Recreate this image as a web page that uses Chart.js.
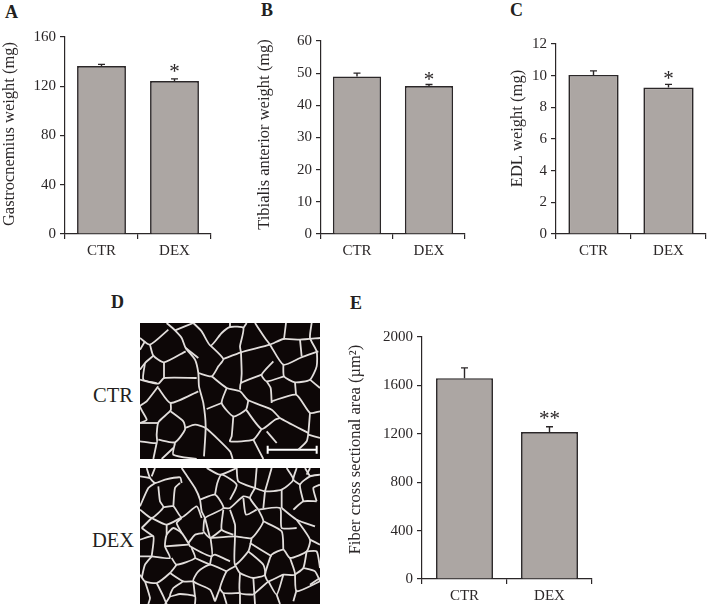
<!DOCTYPE html>
<html>
<head>
<meta charset="utf-8">
<title>Muscle weight and fiber area</title>
<script src="https://cdn.jsdelivr.net/npm/chart.js@4/dist/chart.umd.min.js"></script>
<style>
    html, body { margin: 0; padding: 0; background: #fff; }
    body { position: relative; width: 709px; height: 609px; overflow: hidden; font-family: "Liberation Serif", serif; color: #231f20; }
    canvas { position: absolute; }
    .panel-letter { position: absolute; font-size: 18px; font-weight: bold; line-height: 20px; }
    .image-label { position: absolute; font-size: 20.5px; line-height: 24px; }
</style>
</head>
<body>
<div class="panel-letter" style="left:5px;top:2px">A</div>
<div class="panel-letter" style="left:261px;top:0px">B</div>
<div class="panel-letter" style="left:510px;top:0px">C</div>
<div class="panel-letter" style="left:111px;top:292px">D</div>
<div class="panel-letter" style="left:350px;top:293px">E</div>
<div class="image-label" style="left:93px;top:383px">CTR</div>
<div class="image-label" style="left:92px;top:528px">DEX</div>

<canvas id="chart-a"></canvas>
<canvas id="chart-b"></canvas>
<canvas id="chart-c"></canvas>
<canvas id="chart-e"></canvas>
<canvas id="image-ctr"></canvas>
<canvas id="image-dex"></canvas>

<script>
// Data
const categories = ['CTR', 'DEX'];

const gastrocnemiusMeans = [136.5, 124.3];
const gastrocnemiusUpper = [137.8, 126];
const gastrocnemiusStars = ['', '*'];
const gastrocnemiusStarAt = [null, 133];
const gastrocnemiusTicks = [0, 160, 40];

const tibialisMeans = [49, 46];
const tibialisUpper = [50, 46.5];
const tibialisStars = ['', '*'];
const tibialisStarAt = [null, 48.6];
const tibialisTicks = [0, 60, 10];

const edlMeans = [10.05, 9.25];
const edlUpper = [10.3, 9.45];
const edlStars = ['', '*'];
const edlStarAt = [null, 9.9];
const edlTicks = [0, 12, 2];

const fiberMeans = [1660, 1215];
const fiberUpper = [1745, 1258];
const fiberStars = ['', '**'];
const fiberStarAt = [null, 1337];
const fiberTicks = [0, 2000, 400];

const ctrMembranes = [
    [80,0,105,22,125,45,137,75,165,110,175,150,177,190,190,240,197,310,192,400],
    [160,0,105,22],
    [0,45,30,65,85,20],
    [30,65,40,98,72,118,137,85],
    [40,98,15,120,0,140],
    [15,120,10,170,50,180],
    [0,170,55,182,72,165,170,165],
    [72,118,72,165],
    [55,190,20,235,0,250,20,290,0,300],
    [55,195,92,240,175,205],
    [92,240,92,262,55,298,50,335,50,360,0,355],
    [0,300,55,300],
    [92,265,130,295,135,320,105,358,55,350],
    [135,315,165,305,197,315,270,385,278,408],
    [105,360,100,395,170,408],
    [100,375,65,408],
    [50,360,40,408],
    [160,0,185,25,212,68,245,30,270,12,310,15,300,70,303,88],
    [137,75,175,105],
    [212,68,250,108,235,130,215,160,175,150],
    [250,108,303,88,390,65,430,48,480,50,540,45],
    [270,0,270,12],
    [320,0,310,15],
    [345,0,375,45,390,65,430,125,480,105,535,85],
    [430,125,432,160,465,178,510,170,530,130,530,85,510,45,515,0],
    [438,0,432,48],
    [480,50,485,100],
    [400,115,365,155,380,175,432,160],
    [365,155,303,180,300,200],
    [303,88,305,150,303,180],
    [215,160,260,195,300,205,325,232,395,260,420,285,505,330],
    [325,232,318,260,280,280,245,240,260,195],
    [245,240,200,258],
    [318,260,365,318,405,290,420,285],
    [280,280,275,340,270,355,340,350,365,318],
    [340,350,370,408],
    [380,325,410,360],
    [395,235,468,215,510,270,540,265],
    [395,240,392,195,380,175],
    [465,178,468,215],
    [510,270,505,330,500,355,475,380],
    [505,335,540,345],
    [510,170,540,195],
    [0,80,15,55]
];
const ctrScaleBar = [[383,380,530,380], [383,368,383,392], [530,368,530,392]];

const dexMembranes = [
    [20,0,30,30,45,45,75,35,120,28,125,45],
    [0,25,30,30],
    [45,0,35,25],
    [45,45,25,60,0,115],
    [55,55,60,100,70,118,35,150,0,125],
    [35,150,5,180],
    [35,150,80,170,125,148],
    [70,118,100,115,125,148,170,115,185,150],
    [120,45,105,60,100,115],
    [125,0,135,15,165,60,180,95,185,130,195,150],
    [180,95,225,80,250,120,195,150,190,190],
    [225,80,232,45,245,20,290,50,270,95],
    [200,0,240,20,290,0],
    [290,0,295,40,345,60,375,70,425,65,460,35,440,0],
    [350,0,345,60],
    [395,0,385,35,375,70],
    [470,0,460,35,480,50],
    [345,60,330,90,355,125],
    [250,120,270,120,310,85,330,90],
    [250,125,245,185,280,200],
    [270,125,285,170,285,205],
    [310,90,318,140,350,125],
    [375,70,370,120],
    [355,125,420,120,425,180,470,180],
    [355,125,370,160,335,210,285,205,210,210],
    [195,150,210,210],
    [245,185,210,210,190,190],
    [370,160,425,190,430,245],
    [425,120,470,155,525,175],
    [425,65,425,120],
    [460,125,490,100,530,100],
    [490,100,480,50,510,25,540,20],
    [510,25,495,0],
    [530,100,520,60,540,50],
    [470,155,510,215,500,250,450,270,430,245,395,260,385,285],
    [510,215,540,230],
    [335,210,325,250,285,290,285,205],
    [330,225,395,265],
    [500,250,530,250,540,300],
    [500,250,490,300,465,320],
    [490,300,525,310,540,340],
    [325,250,370,290,375,320,340,330,300,315,285,290],
    [385,285,375,320,385,340,430,320,465,320,450,270],
    [465,320,470,370,540,340],
    [470,365,460,400],
    [430,320,410,380,385,340],
    [410,380,420,408],
    [300,315,300,375,340,380],
    [340,330,345,408],
    [340,380,385,340],
    [300,375,250,375,240,360,260,310,285,295],
    [260,310,210,290,175,310,160,340,210,365,225,400],
    [210,290,215,265,225,260,270,280],
    [212,212,215,265,150,235,145,225,125,195,100,180,80,200,75,235,90,270,35,265,0,265],
    [75,235,145,230],
    [125,150,110,165,125,195],
    [145,225,165,200,190,195],
    [80,170,80,200],
    [0,215,40,205,35,265],
    [40,205,5,180],
    [155,240,165,270,110,290,95,270],
    [165,270,210,290],
    [110,290,90,315,50,345,15,340,0,320],
    [35,265,15,290,5,330],
    [90,315,130,340,160,340],
    [50,345,70,385,80,408],
    [130,340,100,360,90,385,120,378,165,385,165,408],
    [160,340,165,385],
    [15,340,30,390,25,408],
    [90,385,75,408],
    [240,360,225,400],
    [250,375,260,408],
    [300,375,300,408],
    [510,350,540,330],
    [510,0,500,20]
];

const inkColor = '#2b2728';
const barColor = '#aca6a3';
const serif = '"Liberation Serif", serif';

// Whiskers, significance stars and the y title, which sits off centre in the figure
const annotationPlugin = {
    id: 'annotations',
    afterDatasetsDraw(chart, args, opts) {
        const ctx = chart.ctx;
        const y = chart.scales.y;
        const meta = chart.getDatasetMeta(0);
        ctx.save();
        ctx.strokeStyle = inkColor;
        ctx.fillStyle = inkColor;
        ctx.lineWidth = 1.4;
        meta.data.forEach((bar, i) => {
            const top = y.getPixelForValue(opts.upper[i]);
            ctx.beginPath();
            ctx.moveTo(bar.x, y.getPixelForValue(opts.means[i]));
            ctx.lineTo(bar.x, top);
            ctx.moveTo(bar.x - 3.5, top);
            ctx.lineTo(bar.x + 3.5, top);
            ctx.stroke();
            if (opts.stars[i]) {
                ctx.font = '21px ' + serif;
                ctx.textAlign = 'center';
                ctx.textBaseline = 'alphabetic';
                ctx.fillText(opts.stars[i], bar.x, y.getPixelForValue(opts.starAt[i]) + 8);
            }
        });
        ctx.translate(opts.titleX, opts.titleY);
        ctx.rotate(-Math.PI / 2);
        ctx.font = '16.5px ' + serif;
        ctx.textAlign = 'center';
        ctx.textBaseline = 'middle';
        ctx.fillText(opts.title, 0, 0);
        ctx.restore();
    }
};

function drawBarPanel(id, box, title, titleAt, means, upper, stars, starAt, ticks) {
    const canvas = document.getElementById(id);
    const padTop = 12, padRight = 4, xBand = 40;
    const left = titleAt.x - 10, top = box.y0 - padTop;
    canvas.width = box.x1 - left + padRight;
    canvas.height = box.y1 - top + xBand;
    canvas.style.left = left + 'px';
    canvas.style.top = top + 'px';

    new Chart(canvas, {
        type: 'bar',
        plugins: [annotationPlugin],
        data: {
            labels: categories,
            datasets: [{
                data: means,
                backgroundColor: barColor,
                borderColor: inkColor,
                borderWidth: 1.7,
                categoryPercentage: 1,
                barPercentage: 0.67
            }]
        },
        options: {
            responsive: false,
            animation: false,
            devicePixelRatio: 1,
            layout: { padding: { top: padTop, right: padRight } },
            plugins: {
                legend: { display: false },
                tooltip: { enabled: false },
                annotations: { means, upper, stars, starAt, title, titleX: 10, titleY: titleAt.y - top }
            },
            scales: {
                x: {
                    grid: { drawOnChartArea: false, color: inkColor, lineWidth: 1.2, tickLength: 5 },
                    border: { color: inkColor, width: 1.2 },
                    ticks: { color: inkColor, font: { family: serif, size: 15 }, padding: 3, maxRotation: 0 },
                    afterFit: s => { s.height = xBand; }
                },
                y: {
                    min: ticks[0],
                    max: ticks[1],
                    grid: { drawOnChartArea: false, color: inkColor, lineWidth: 1.2, tickLength: 5 },
                    border: { color: inkColor, width: 1.2 },
                    ticks: { stepSize: ticks[2], color: inkColor, font: { family: serif, size: 15 }, padding: 4, callback: v => String(v) },
                    afterFit: s => { s.width = box.x0 - left; }
                }
            }
        }
    });
}

// Micrographs: black field with white membrane lines
const darkFieldPlugin = {
    id: 'darkField',
    beforeDraw(chart) {
        chart.ctx.fillStyle = '#0d0707';
        chart.ctx.fillRect(0, 0, chart.width, chart.height);
    }
};

function toPoints(flat) {
    const pts = [];
    for (let i = 0; i < flat.length; i += 2) pts.push({ x: flat[i], y: flat[i + 1] });
    return pts;
}

function drawMicrograph(id, left, top, membranes, bar) {
    const canvas = document.getElementById(id);
    canvas.width = 180;
    canvas.height = 136;
    canvas.style.left = left + 'px';
    canvas.style.top = top + 'px';

    const datasets = membranes.map(line => ({
        data: toPoints(line), showLine: true, borderColor: '#e2dedc', borderWidth: 1.8, pointRadius: 0, tension: 0.2, borderJoinStyle: 'round'
    }));
    bar.forEach(line => datasets.push({
        data: toPoints(line), showLine: true, borderColor: '#ffffff', borderWidth: 2, pointRadius: 0
    }));

    new Chart(canvas, {
        type: 'scatter',
        plugins: [darkFieldPlugin],
        data: { datasets },
        options: {
            responsive: false,
            animation: false,
            devicePixelRatio: 1,
            plugins: { legend: { display: false }, tooltip: { enabled: false } },
            scales: {
                x: { display: false, min: 0, max: 540 },
                y: { display: false, min: 0, max: 408, reverse: true }
            }
        }
    });
}

drawBarPanel('chart-a', { x0: 65, x1: 211, y0: 36, y1: 234 }, 'Gastrocnemius weight (mg)', { x: 10, y: 134 },
    gastrocnemiusMeans, gastrocnemiusUpper, gastrocnemiusStars, gastrocnemiusStarAt, gastrocnemiusTicks);
drawBarPanel('chart-b', { x0: 321, x1: 465, y0: 40, y1: 234 }, 'Tibialis anterior weight (mg)', { x: 265, y: 134.5 },
    tibialisMeans, tibialisUpper, tibialisStars, tibialisStarAt, tibialisTicks);
drawBarPanel('chart-c', { x0: 556, x1: 706, y0: 43, y1: 234 }, 'EDL weight (mg)', { x: 518, y: 128.5 },
    edlMeans, edlUpper, edlStars, edlStarAt, edlTicks);
drawBarPanel('chart-e', { x0: 422, x1: 592, y0: 336, y1: 579 }, 'Fiber cross sectional area (\u00b5m\u00b2)', { x: 356, y: 449.5 },
    fiberMeans, fiberUpper, fiberStars, fiberStarAt, fiberTicks);

drawMicrograph('image-ctr', 140, 323, ctrMembranes, ctrScaleBar);
drawMicrograph('image-dex', 140, 468, dexMembranes, []);
</script>
</body>
</html>
